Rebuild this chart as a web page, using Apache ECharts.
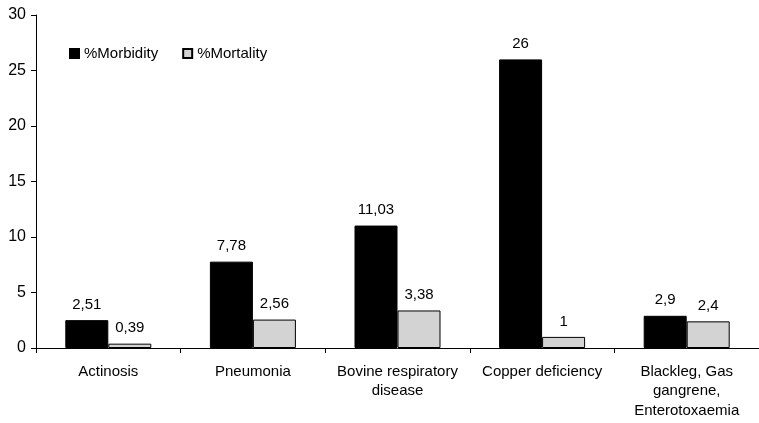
<!DOCTYPE html>
<html><head><meta charset="utf-8">
<script src="https://cdn.jsdelivr.net/npm/echarts@6/dist/echarts.min.js"></script>
<style>html,body{margin:0;padding:0;background:#fff}#c{width:759px;height:423px}</style>
</head><body><div id="c"></div>
<script>
var categories = ["Actinosis", "Pneumonia", "Bovine respiratory\ndisease", "Copper deficiency", "Blackleg, Gas\ngangrene,\nEnterotoxaemia"];
var morbidity = [2.51, 7.78, 11.03, 26, 2.9];
var mortality = [0.39, 2.56, 3.38, 1, 2.4];
var yTicks = [0, 5, 10, 15, 20, 25, 30];

var font = "Liberation Sans, Arial, sans-serif";
function fmt(p){ return String(p.value).replace('.', ','); }
var chart = echarts.init(document.getElementById('c'));
chart.setOption({
  animation: false,
  backgroundColor: '#fff',
  textStyle: {fontFamily: font, color: '#000'},
  legend: {
    left: 64, top: 41, itemWidth: 9, itemHeight: 9, itemGap: 24, icon: 'rect',
    textStyle: {fontFamily: font, fontSize: 15, color: '#000'},
    data: [{name: '%Morbidity'}, {name: '%Mortality'}]
  },
  grid: {left: 36, right: 0, top: 15, bottom: 75, containLabel: false},
  xAxis: {
    type: 'category', data: categories,
    axisLine: {lineStyle: {color: '#000', width: 1}},
    axisTick: {show: true, length: 5, inside: false, lineStyle: {color: '#000'}},
    axisLabel: {fontFamily: font, fontSize: 15, color: '#000', margin: 14, lineHeight: 19.5, interval: 0}
  },
  yAxis: {
    type: 'value', min: yTicks[0], max: yTicks[yTicks.length-1], interval: 5,
    axisLine: {show: true, lineStyle: {color: '#000', width: 1}},
    axisTick: {show: true, length: 5, lineStyle: {color: '#000'}},
    splitLine: {show: false},
    axisLabel: {fontFamily: font, fontSize: 16, color: '#000', margin: 10}
  },
  series: [
    {name: '%Morbidity', type: 'bar', data: morbidity, barWidth: 43, barGap: '0%',
     itemStyle: {color: '#000', borderColor: '#000', borderWidth: 1},
     label: {show: true, position: 'top', distance: 8, formatter: fmt, fontFamily: font, fontSize: 15, color: '#000'}},
    {name: '%Mortality', type: 'bar', data: mortality, barWidth: 43, barGap: '0%',
     itemStyle: {color: '#d3d3d3', borderColor: '#000', borderWidth: 1},
     label: {show: true, position: 'top', distance: 8, formatter: fmt, fontFamily: font, fontSize: 15, color: '#000'}}
  ]
});
</script></body></html>
